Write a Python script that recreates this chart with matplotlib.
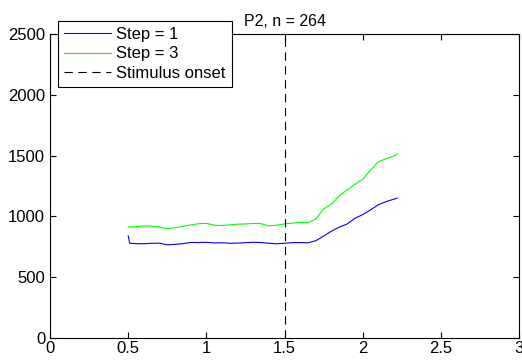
import numpy as np
import matplotlib
matplotlib.use("Agg")
import matplotlib.pyplot as plt

plt.rcParams['font.family'] = ['Liberation Sans', 'DejaVu Sans']
plt.rcParams['lines.scale_dashes'] = False

# waktu (s) dan rata-rata per step
waktu = [0.50, 0.51, 0.55, 0.60, 0.65, 0.70, 0.75, 0.80, 0.85, 0.90, 0.95,
         1.00, 1.05, 1.10, 1.15, 1.20, 1.25, 1.30, 1.35, 1.40, 1.45, 1.50,
         1.55, 1.60, 1.65, 1.70, 1.75, 1.80, 1.85, 1.90, 1.95, 2.00, 2.05,
         2.10, 2.15, 2.20, 2.22]
step1 = [840, 779, 776, 775, 779, 780, 766, 770, 776, 786, 785,
         787, 782, 783, 779, 780, 784, 787, 785, 779, 775, 779,
         784, 785, 783, 800, 838, 878, 912, 937, 984, 1015, 1053,
         1096, 1122, 1142, 1150]
step3 = [912, 914, 915, 921, 920, 914, 897, 908, 918, 930, 940,
         943, 928, 925, 930, 936, 938, 942, 940, 922, 928, 938,
         945, 950, 948, 978, 1062, 1100, 1168, 1218, 1264, 1305, 1380,
         1450, 1474, 1497, 1512]
onset = 1.5

fig = plt.figure(figsize=(5.22, 3.63), dpi=100)
ax = fig.add_axes([0.0958, 0.0689, 0.8985, 0.8374])

ax.plot(waktu, step1, color=(0, 0, 1), lw=0.8, label="Step = 1")
ax.plot(waktu, step3, color=(0, 1, 0), lw=0.8, label="Step = 3")
ax.axvline(onset, color="black", lw=0.8, linestyle=(0, (6, 4)), label="Stimulus onset")

ax.set_xlim(0, 3)
ax.set_ylim(0, 2500)
ax.set_xticks([0, 0.5, 1, 1.5, 2, 2.5, 3])
ax.set_xticklabels(["0", "0.5", "1", "1.5", "2", "2.5", "3"])
ax.set_yticks([0, 500, 1000, 1500, 2000, 2500])
ax.tick_params(direction="in", length=4, width=0.8, top=True, right=True, labelsize=12)
ax.tick_params(axis="x", pad=2.5)
ax.tick_params(axis="y", pad=3.5)
for s in ax.spines.values():
    s.set_linewidth(0.8)

ax.set_title("P2, n = 264", fontsize=11.5, pad=6)

leg = ax.legend(loc="upper left", bbox_to_anchor=(0.017, 1.043), borderaxespad=0,
                fontsize=12, frameon=True, fancybox=False, framealpha=1,
                edgecolor="black", handlelength=2.8, handletextpad=0.3,
                labelspacing=0.25, borderpad=0.38)
leg.get_frame().set_linewidth(0.8)
leg.set_zorder(10)

fig.savefig("out.png", dpi=100)
